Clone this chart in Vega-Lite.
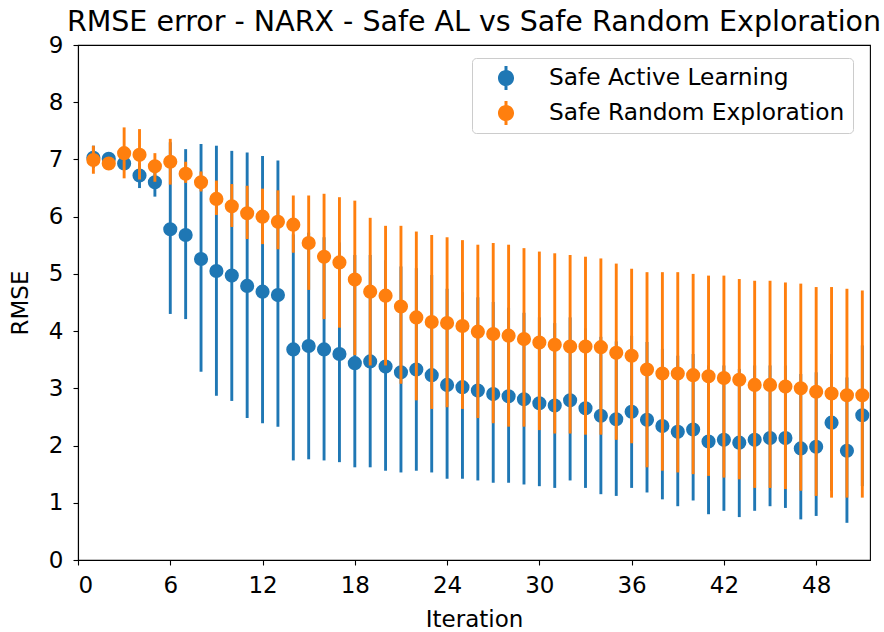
{
  "$schema": "https://vega.github.io/schema/vega-lite/v6.json",
  "autosize": "none",
  "width": 792,
  "height": 515,
  "padding": {"left": 78, "top": 45, "right": 14, "bottom": 72},
  "background": "white",
  "config": {
    "font": "DejaVu Sans",
    "view": {"stroke": "black", "strokeWidth": 1.1},
    "axis": {"grid": false, "domainColor": "black", "tickColor": "black", "labelColor": "black", "titleColor": "black", "labelFontSize": 23, "titleFontSize": 23, "titleFontWeight": "normal", "tickSize": 5, "tickWidth": 1.1, "domainWidth": 1.1}
  },
  "title": {"text": "RMSE error - NARX - Safe AL vs Safe Random Exploration", "fontSize": 28.5, "fontWeight": "normal", "color": "black", "offset": -2, "anchor": "middle"},
  "datasets": {
    "d": [
      {"s":"Safe Active Learning","i":1,"m":7.03,"lo":6.85,"hi":7.24},
      {"s":"Safe Active Learning","i":2,"m":7.01,"lo":6.95,"hi":7.07},
      {"s":"Safe Active Learning","i":3,"m":6.93,"lo":6.82,"hi":7.05},
      {"s":"Safe Active Learning","i":4,"m":6.72,"lo":6.50,"hi":6.93},
      {"s":"Safe Active Learning","i":5,"m":6.60,"lo":6.35,"hi":6.85},
      {"s":"Safe Active Learning","i":6,"m":5.78,"lo":4.30,"hi":7.30},
      {"s":"Safe Active Learning","i":7,"m":5.68,"lo":4.21,"hi":7.18},
      {"s":"Safe Active Learning","i":8,"m":5.26,"lo":3.29,"hi":7.27},
      {"s":"Safe Active Learning","i":9,"m":5.05,"lo":2.87,"hi":7.24},
      {"s":"Safe Active Learning","i":10,"m":4.97,"lo":2.78,"hi":7.15},
      {"s":"Safe Active Learning","i":11,"m":4.79,"lo":2.48,"hi":7.12},
      {"s":"Safe Active Learning","i":12,"m":4.69,"lo":2.39,"hi":7.06},
      {"s":"Safe Active Learning","i":13,"m":4.63,"lo":2.33,"hi":6.98},
      {"s":"Safe Active Learning","i":14,"m":3.68,"lo":1.74,"hi":5.69},
      {"s":"Safe Active Learning","i":15,"m":3.74,"lo":1.76,"hi":5.72},
      {"s":"Safe Active Learning","i":16,"m":3.68,"lo":1.74,"hi":5.64},
      {"s":"Safe Active Learning","i":17,"m":3.60,"lo":1.71,"hi":5.55},
      {"s":"Safe Active Learning","i":18,"m":3.44,"lo":1.62,"hi":5.33},
      {"s":"Safe Active Learning","i":19,"m":3.47,"lo":1.62,"hi":5.33},
      {"s":"Safe Active Learning","i":20,"m":3.38,"lo":1.56,"hi":5.24},
      {"s":"Safe Active Learning","i":21,"m":3.28,"lo":1.53,"hi":5.13},
      {"s":"Safe Active Learning","i":22,"m":3.33,"lo":1.56,"hi":5.10},
      {"s":"Safe Active Learning","i":23,"m":3.23,"lo":1.53,"hi":4.98},
      {"s":"Safe Active Learning","i":24,"m":3.06,"lo":1.42,"hi":4.74},
      {"s":"Safe Active Learning","i":25,"m":3.02,"lo":1.42,"hi":4.68},
      {"s":"Safe Active Learning","i":26,"m":2.96,"lo":1.39,"hi":4.59},
      {"s":"Safe Active Learning","i":27,"m":2.90,"lo":1.35,"hi":4.51},
      {"s":"Safe Active Learning","i":28,"m":2.86,"lo":1.35,"hi":4.41},
      {"s":"Safe Active Learning","i":29,"m":2.81,"lo":1.32,"hi":4.32},
      {"s":"Safe Active Learning","i":30,"m":2.74,"lo":1.29,"hi":4.24},
      {"s":"Safe Active Learning","i":31,"m":2.70,"lo":1.26,"hi":4.14},
      {"s":"Safe Active Learning","i":32,"m":2.79,"lo":1.39,"hi":4.24},
      {"s":"Safe Active Learning","i":33,"m":2.65,"lo":1.26,"hi":4.05},
      {"s":"Safe Active Learning","i":34,"m":2.52,"lo":1.15,"hi":3.90},
      {"s":"Safe Active Learning","i":35,"m":2.46,"lo":1.12,"hi":3.82},
      {"s":"Safe Active Learning","i":36,"m":2.59,"lo":1.26,"hi":3.92},
      {"s":"Safe Active Learning","i":37,"m":2.45,"lo":1.18,"hi":3.81},
      {"s":"Safe Active Learning","i":38,"m":2.34,"lo":1.06,"hi":3.69},
      {"s":"Safe Active Learning","i":39,"m":2.24,"lo":0.94,"hi":3.57},
      {"s":"Safe Active Learning","i":40,"m":2.28,"lo":1.04,"hi":3.60},
      {"s":"Safe Active Learning","i":41,"m":2.07,"lo":0.80,"hi":3.40},
      {"s":"Safe Active Learning","i":42,"m":2.10,"lo":0.86,"hi":3.40},
      {"s":"Safe Active Learning","i":43,"m":2.05,"lo":0.75,"hi":3.34},
      {"s":"Safe Active Learning","i":44,"m":2.10,"lo":0.86,"hi":3.40},
      {"s":"Safe Active Learning","i":45,"m":2.13,"lo":0.94,"hi":3.40},
      {"s":"Safe Active Learning","i":46,"m":2.13,"lo":0.91,"hi":3.40},
      {"s":"Safe Active Learning","i":47,"m":1.95,"lo":0.71,"hi":3.25},
      {"s":"Safe Active Learning","i":48,"m":1.98,"lo":0.77,"hi":3.28},
      {"s":"Safe Active Learning","i":49,"m":2.40,"lo":1.21,"hi":3.60},
      {"s":"Safe Active Learning","i":50,"m":1.91,"lo":0.65,"hi":3.19},
      {"s":"Safe Active Learning","i":51,"m":2.53,"lo":1.29,"hi":3.75},
      {"s":"Safe Random Exploration","i":1,"m":6.99,"lo":6.75,"hi":7.24},
      {"s":"Safe Random Exploration","i":2,"m":6.93,"lo":6.86,"hi":7.02},
      {"s":"Safe Random Exploration","i":3,"m":7.11,"lo":6.67,"hi":7.56},
      {"s":"Safe Random Exploration","i":4,"m":7.08,"lo":6.65,"hi":7.53},
      {"s":"Safe Random Exploration","i":5,"m":6.88,"lo":6.61,"hi":7.11},
      {"s":"Safe Random Exploration","i":6,"m":6.96,"lo":6.56,"hi":7.36},
      {"s":"Safe Random Exploration","i":7,"m":6.75,"lo":6.59,"hi":6.96},
      {"s":"Safe Random Exploration","i":8,"m":6.60,"lo":6.44,"hi":6.79},
      {"s":"Safe Random Exploration","i":9,"m":6.31,"lo":6.03,"hi":6.63},
      {"s":"Safe Random Exploration","i":10,"m":6.18,"lo":5.82,"hi":6.57},
      {"s":"Safe Random Exploration","i":11,"m":6.06,"lo":5.61,"hi":6.54},
      {"s":"Safe Random Exploration","i":12,"m":6.00,"lo":5.52,"hi":6.49},
      {"s":"Safe Random Exploration","i":13,"m":5.91,"lo":5.43,"hi":6.46},
      {"s":"Safe Random Exploration","i":14,"m":5.86,"lo":5.37,"hi":6.37},
      {"s":"Safe Random Exploration","i":15,"m":5.54,"lo":4.72,"hi":6.37},
      {"s":"Safe Random Exploration","i":16,"m":5.30,"lo":4.21,"hi":6.40},
      {"s":"Safe Random Exploration","i":17,"m":5.20,"lo":4.06,"hi":6.34},
      {"s":"Safe Random Exploration","i":18,"m":4.90,"lo":3.58,"hi":6.28},
      {"s":"Safe Random Exploration","i":19,"m":4.69,"lo":3.40,"hi":5.98},
      {"s":"Safe Random Exploration","i":20,"m":4.62,"lo":3.40,"hi":5.84},
      {"s":"Safe Random Exploration","i":21,"m":4.43,"lo":3.08,"hi":5.84},
      {"s":"Safe Random Exploration","i":22,"m":4.24,"lo":2.79,"hi":5.74},
      {"s":"Safe Random Exploration","i":23,"m":4.16,"lo":2.64,"hi":5.68},
      {"s":"Safe Random Exploration","i":24,"m":4.14,"lo":2.67,"hi":5.64},
      {"s":"Safe Random Exploration","i":25,"m":4.09,"lo":2.64,"hi":5.59},
      {"s":"Safe Random Exploration","i":26,"m":3.99,"lo":2.48,"hi":5.51},
      {"s":"Safe Random Exploration","i":27,"m":3.95,"lo":2.39,"hi":5.54},
      {"s":"Safe Random Exploration","i":28,"m":3.92,"lo":2.33,"hi":5.51},
      {"s":"Safe Random Exploration","i":29,"m":3.86,"lo":2.33,"hi":5.45},
      {"s":"Safe Random Exploration","i":30,"m":3.80,"lo":2.27,"hi":5.39},
      {"s":"Safe Random Exploration","i":31,"m":3.76,"lo":2.21,"hi":5.36},
      {"s":"Safe Random Exploration","i":32,"m":3.73,"lo":2.21,"hi":5.33},
      {"s":"Safe Random Exploration","i":33,"m":3.73,"lo":2.19,"hi":5.30},
      {"s":"Safe Random Exploration","i":34,"m":3.72,"lo":2.19,"hi":5.27},
      {"s":"Safe Random Exploration","i":35,"m":3.62,"lo":2.10,"hi":5.18},
      {"s":"Safe Random Exploration","i":36,"m":3.57,"lo":2.04,"hi":5.09},
      {"s":"Safe Random Exploration","i":37,"m":3.33,"lo":1.62,"hi":5.03},
      {"s":"Safe Random Exploration","i":38,"m":3.26,"lo":1.56,"hi":5.03},
      {"s":"Safe Random Exploration","i":39,"m":3.26,"lo":1.53,"hi":5.03},
      {"s":"Safe Random Exploration","i":40,"m":3.23,"lo":1.50,"hi":5.00},
      {"s":"Safe Random Exploration","i":41,"m":3.21,"lo":1.47,"hi":4.97},
      {"s":"Safe Random Exploration","i":42,"m":3.18,"lo":1.44,"hi":4.97},
      {"s":"Safe Random Exploration","i":43,"m":3.15,"lo":1.41,"hi":4.91},
      {"s":"Safe Random Exploration","i":44,"m":3.06,"lo":1.26,"hi":4.88},
      {"s":"Safe Random Exploration","i":45,"m":3.06,"lo":1.26,"hi":4.88},
      {"s":"Safe Random Exploration","i":46,"m":3.03,"lo":1.24,"hi":4.85},
      {"s":"Safe Random Exploration","i":47,"m":3.00,"lo":1.21,"hi":4.83},
      {"s":"Safe Random Exploration","i":48,"m":2.94,"lo":1.12,"hi":4.77},
      {"s":"Safe Random Exploration","i":49,"m":2.91,"lo":1.09,"hi":4.77},
      {"s":"Safe Random Exploration","i":50,"m":2.88,"lo":1.09,"hi":4.74},
      {"s":"Safe Random Exploration","i":51,"m":2.88,"lo":1.09,"hi":4.71}
    ]
  },
  "data": {"name": "d"},
  "encoding": {
    "x": {"field": "i", "type": "quantitative", "title": "Iteration",
      "scale": {"domain": [0, 51.5], "nice": false, "zero": false},
      "axis": {"values": [0, 6, 12, 18, 24, 30, 36, 42, 48], "labelPadding": 9, "titlePadding": 11}},
    "y": {"field": "m", "type": "quantitative", "title": "RMSE",
      "scale": {"domain": [0, 9], "nice": false},
      "axis": {"values": [0, 1, 2, 3, 4, 5, 6, 7, 8, 9], "labelPadding": 10, "titlePadding": 16}}
  },
  "layer": [
    {
      "transform": [{"filter": "datum.s === 'Safe Active Learning'"}],
      "mark": {"type": "rule", "strokeWidth": 2.9, "color": "#1f77b4"},
      "encoding": {"y": {"field": "lo", "type": "quantitative"}, "y2": {"field": "hi"}}
    },
    {
      "transform": [{"filter": "datum.s === 'Safe Active Learning'"}],
      "mark": {"type": "point", "filled": true, "opacity": 1, "size": 200, "shape": "circle"},
      "encoding": {"color": {"field": "s", "type": "nominal"}}
    },
    {
      "transform": [{"filter": "datum.s === 'Safe Random Exploration'"}],
      "mark": {"type": "rule", "strokeWidth": 2.9, "color": "#ff7f0e"},
      "encoding": {"y": {"field": "lo", "type": "quantitative"}, "y2": {"field": "hi"}}
    },
    {
      "transform": [{"filter": "datum.s === 'Safe Random Exploration'"}],
      "mark": {"type": "point", "filled": true, "opacity": 1, "size": 200, "shape": "circle"},
      "encoding": {"color": {"field": "s", "type": "nominal",
        "scale": {"domain": ["Safe Active Learning", "Safe Random Exploration"], "range": ["#1f77b4", "#ff7f0e"]},
        "legend": {"title": null, "orient": "none", "legendX": 394, "legendY": 13,
          "labelFontSize": 23.3, "labelColor": "black", "labelOffset": 31, "labelLimit": 600,
          "symbolType": "M0.67,0A0.67,0.67,0,1,1,-0.67,0A0.67,0.67,0,1,1,0.67,0Z M-0.125,-1H0.125V-0.62H-0.125Z M-0.125,0.62H0.125V1H-0.125Z",
          "symbolSize": 576, "symbolStrokeWidth": 0, "symbolOpacity": 1, "symbolOffset": 14,
          "rowPadding": 11, "padding": 8, "strokeColor": "#cccccc", "fillColor": "rgba(255,255,255,0.8)", "cornerRadius": 4}}}
    }
  ]
}
